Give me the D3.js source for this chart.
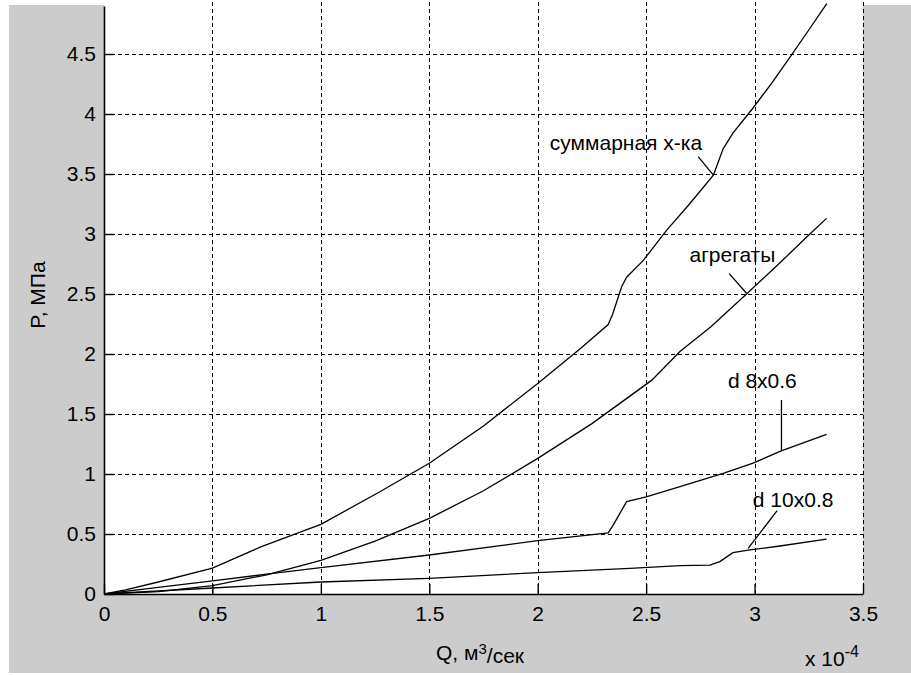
<!DOCTYPE html>
<html>
<head>
<meta charset="utf-8">
<script src="https://cdn.jsdelivr.net/npm/d3@7"></script>
<style>
  html, body { margin: 0; padding: 0; background: #ffffff; }
  svg text { font-family: "Liberation Sans", Arial, sans-serif; fill: #000; }
</style>
</head>
<body>
<div id="chart"></div>
<script>
(function () {
    'use strict';

    // Q values are in units of 1e-4 m3/s, P in MPa
    var xTicks = [0, 0.5, 1, 1.5, 2, 2.5, 3, 3.5];
    var yTicks = [0, 0.5, 1, 1.5, 2, 2.5, 3, 3.5, 4, 4.5];

    // суммарная х-ка
    var sumQ = [0, 0.1, 0.25, 0.5, 0.72, 1.0, 1.27, 1.5, 1.75, 2.0, 2.2, 2.325, 2.345, 2.387, 2.41, 2.487, 2.594, 2.7, 2.81, 2.855, 2.9, 2.993, 3.08, 3.17, 3.25, 3.333];
    var sumP = [0, 0.035, 0.1, 0.215, 0.39, 0.58, 0.85, 1.09, 1.4, 1.755, 2.05, 2.245, 2.33, 2.56, 2.64, 2.78, 3.03, 3.25, 3.49, 3.71, 3.84, 4.05, 4.26, 4.49, 4.7, 4.92];

    // агрегаты
    var aggQ = [0, 0.25, 0.5, 0.75, 1.0, 1.25, 1.5, 1.75, 2.0, 2.25, 2.525, 2.656, 2.8, 2.963, 3.117, 3.255, 3.332];
    var aggP = [0, 0.02, 0.07, 0.16, 0.28, 0.44, 0.63, 0.86, 1.13, 1.42, 1.78, 2.02, 2.23, 2.5, 2.76, 3.0, 3.13];

    // d 8x0.6
    var d8Q = [0, 0.25, 0.5, 0.75, 1.0, 1.5, 2.0, 2.325, 2.35, 2.41, 2.5, 2.656, 2.855, 2.993, 3.12, 3.332];
    var d8P = [0, 0.055, 0.11, 0.165, 0.22, 0.325, 0.444, 0.51, 0.58, 0.77, 0.81, 0.894, 1.005, 1.09, 1.19, 1.33];

    // d 10x0.8
    var d10Q = [0, 0.5, 1.0, 1.5, 2.0, 2.425, 2.656, 2.794, 2.84, 2.9, 2.978, 3.117, 3.332];
    var d10P = [0, 0.05, 0.1, 0.13, 0.178, 0.214, 0.236, 0.24, 0.27, 0.345, 0.367, 0.4, 0.458];

    // annotation: label text, label anchor (q, p), pointer start, pointer end
    var noteText = ['суммарная х-ка', 'агрегаты', 'd 8x0.6', 'd 10x0.8'];
    var noteAt = [[2.056, 3.76], [2.70, 2.825], [2.877, 1.78], [2.992, 0.79]];
    var noteFrom = [[2.74, 3.645], [2.883, 2.67], [3.124, 1.617], [3.104, 0.694]];
    var noteTo = [[2.81, 3.49], [2.963, 2.506], [3.124, 1.19], [2.97, 0.38]];

    var width = 911, height = 675;
    var fontSize = 21;

    var svg = d3.select('#chart')
        .append('svg')
        .attr('width', width)
        .attr('height', height);

    // figure background
    svg.append('rect')
        .attr('x', 9).attr('y', 5)
        .attr('width', width - 9).attr('height', 668)
        .attr('fill', '#cccccc');

    var x = d3.scaleLinear().domain([0, 3.5]).range([104, 863]);
    var y = d3.scaleLinear().domain([0, 4.9]).range([594, 6]);

    // plot area
    svg.append('rect')
        .attr('x', x(0)).attr('y', 0)
        .attr('width', x(3.5) - x(0)).attr('height', y(0))
        .attr('fill', '#ffffff');

    var clip = svg.append('clipPath').attr('id', 'plotclip');
    clip.append('rect')
        .attr('x', x(0)).attr('y', 0)
        .attr('width', x(3.5) - x(0) + 1).attr('height', y(0));

    // grid
    var grid = svg.append('g')
        .attr('stroke', '#000')
        .attr('stroke-width', 1)
        .attr('stroke-dasharray', '4,3')
        .attr('shape-rendering', 'crispEdges');

    grid.selectAll('line.gx')
        .data(xTicks.slice(1))
        .enter()
        .append('line')
        .attr('class', 'gx')
        .attr('x1', function(d) { return Math.round(x(d)) + 0.5; })
        .attr('x2', function(d) { return Math.round(x(d)) + 0.5; })
        .attr('y1', y(0))
        .attr('y2', 0);

    grid.selectAll('line.gy')
        .data(yTicks.slice(1))
        .enter()
        .append('line')
        .attr('class', 'gy')
        .attr('y1', function(d) { return Math.round(y(d)) + 0.5; })
        .attr('y2', function(d) { return Math.round(y(d)) + 0.5; })
        .attr('x1', x(0))
        .attr('x2', x(3.5));

    // axes
    var xAxis = d3.axisBottom(x)
        .tickValues(xTicks)
        .tickSizeInner(-10)
        .tickSizeOuter(0)
        .tickPadding(18)
        .tickFormat(function(d) { return String(d); });

    var yAxis = d3.axisLeft(y)
        .tickValues(yTicks)
        .tickSizeInner(-10)
        .tickSizeOuter(0)
        .tickPadding(18)
        .tickFormat(function(d) { return String(d); });

    var gx = svg.append('g')
        .attr('transform', 'translate(0,' + y(0) + ')')
        .call(xAxis);

    var gy = svg.append('g')
        .attr('transform', 'translate(' + x(0) + ',0)')
        .call(yAxis);

    [gx, gy].forEach(function(g) {
        g.select('.domain').attr('stroke', '#000').attr('stroke-width', 1.6);
        g.selectAll('.tick line').attr('stroke', '#000').attr('stroke-width', 1.4);
        g.selectAll('.tick text')
            .style('font-family', '"Liberation Sans", Arial, sans-serif')
            .style('font-size', fontSize + 'px')
            .attr('fill', '#000');
    });
    gy.selectAll('.tick text').attr('x', -8);
    gx.selectAll('.tick text').attr('y', 12);

    // curves
    var series = [
        { q: sumQ, p: sumP },
        { q: aggQ, p: aggP },
        { q: d8Q, p: d8P },
        { q: d10Q, p: d10P }
    ];

    var line = d3.line()
        .x(function(d) { return x(d[0]); })
        .y(function(d) { return y(d[1]); });

    svg.append('g')
        .attr('clip-path', 'url(#plotclip)')
        .selectAll('path')
        .data(series)
        .enter()
        .append('path')
        .attr('d', function(s) {
            return line(s.q.map(function(q, i) { return [q, s.p[i]]; }));
        })
        .attr('fill', 'none')
        .attr('stroke', '#000')
        .attr('stroke-width', 1.3);

    // annotations
    var notes = svg.append('g');
    noteText.forEach(function(t, i) {
        notes.append('line')
            .attr('x1', x(noteFrom[i][0])).attr('y1', y(noteFrom[i][1]))
            .attr('x2', x(noteTo[i][0])).attr('y2', y(noteTo[i][1]))
            .attr('stroke', '#000')
            .attr('stroke-width', 1.3);
        notes.append('text')
            .attr('x', x(noteAt[i][0]))
            .attr('y', y(noteAt[i][1]))
            .attr('dy', '0.35em')
            .style('font-size', fontSize + 'px')
            .text(t);
    });

    // axis labels
    var xl = svg.append('text')
        .attr('x', 480)
        .attr('y', 653)
        .attr('dy', '0.35em')
        .attr('text-anchor', 'middle')
        .style('font-size', fontSize + 'px');
    xl.append('tspan').text('Q, м');
    xl.append('tspan').attr('dy', '-0.45em').style('font-size', '15px').text('3');
    xl.append('tspan').attr('dy', '0.45em').text('/сек');

    svg.append('text')
        .attr('transform', 'translate(38,295) rotate(-90)')
        .attr('dy', '0.35em')
        .attr('text-anchor', 'middle')
        .style('font-size', fontSize + 'px')
        .text('P, МПа');

    var sc = svg.append('text')
        .attr('x', 805)
        .attr('y', 659)
        .attr('dy', '0.35em')
        .style('font-size', fontSize + 'px');
    sc.append('tspan').text('x 10');
    sc.append('tspan').attr('dy', '-0.6em').style('font-size', '16px').text('-4');
})();
</script>
</body>
</html>
